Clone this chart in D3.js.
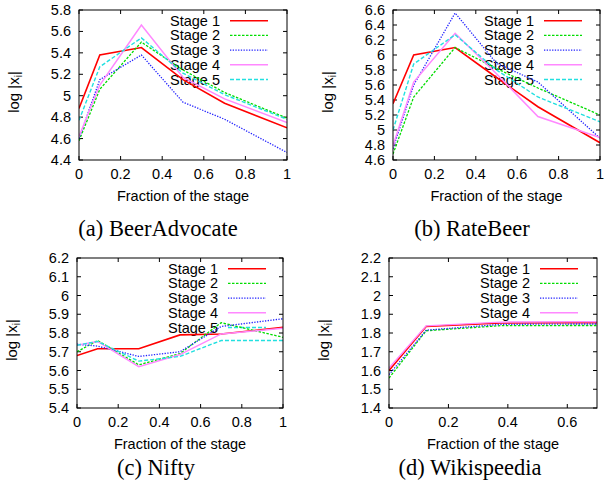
<!DOCTYPE html>
<html>
<head>
<meta charset="utf-8">
<script src="https://cdn.jsdelivr.net/npm/d3@7"></script>
<style>
  body { margin: 0; background: #fff; }
  svg { display: block; }
  text { font-family: "Liberation Sans", Arial, sans-serif; fill: #000; }
  .caption { font-family: "Liberation Serif", "Times New Roman", serif; font-size: 22.5px; }
</style>
</head>
<body>
<svg width="605" height="490"></svg>
<script>
// --- data ---
const stageNames = ["Stage 1", "Stage 2", "Stage 3", "Stage 4", "Stage 5"]

const xSix = [0, 0.1, 0.3, 0.5, 0.7, 1]
const xWiki = [0, 0.125, 0.375, 0.625, 0.875]

const beerAdvocate = [
  [4.88, 5.38, 5.45, 5.15, 4.93, 4.70],
  [4.58, 5.06, 5.50, 5.24, 5.03, 4.79],
  [4.60, 5.15, 5.38, 4.94, 4.78, 4.47],
  [4.62, 5.10, 5.66, 5.17, 4.97, 4.75],
  [4.77, 5.27, 5.54, 5.21, 5.01, 4.78]
]
const rateBeer = [
  [5.35, 6.00, 6.10, 5.70, 5.31, 4.83],
  [4.68, 5.44, 6.10, 5.82, 5.56, 5.20],
  [4.75, 5.60, 6.56, 5.89, 5.64, 4.89],
  [4.79, 5.64, 6.29, 5.75, 5.18, 4.90],
  [5.00, 5.88, 6.27, 5.80, 5.44, 5.11]
]
const nifty = [
  [5.68, 5.716, 5.716, 5.79, 5.795, 5.83],
  [5.70, 5.76, 5.63, 5.69, 5.855, 5.777],
  [5.74, 5.73, 5.675, 5.70, 5.835, 5.876],
  [5.735, 5.755, 5.62, 5.685, 5.795, 5.825],
  [5.735, 5.755, 5.65, 5.675, 5.76, 5.76]
]
const wikispeedia = [
  [1.60, 1.835, 1.853, 1.855, 1.855],
  [1.56, 1.812, 1.839, 1.840, 1.840],
  [1.578, 1.815, 1.846, 1.848, 1.848],
  [1.613, 1.838, 1.858, 1.860, 1.860]
]

const yTicksA = d3.range(4.4, 5.81, 0.2)
const yTicksB = d3.range(4.6, 6.61, 0.2)
const yTicksC = d3.range(5.4, 6.21, 0.1)
const yTicksD = d3.range(1.4, 2.21, 0.1)
const xTicksFull = [0, 0.2, 0.4, 0.6, 0.8, 1]
const xTicksWiki = [0, 0.2, 0.4, 0.6]

const captions = ["(a) BeerAdvocate", "(b) RateBeer", "(c) Nifty", "(d) Wikispeedia"]

// gnuplot-like line styles
const styles = [
  {color: "#ff0000", width: 1.6, dash: null},
  {color: "#00dd00", width: 1.3, dash: "2.5,1.5"},
  {color: "#2222ff", width: 1.3, dash: "1.3,1.4"},
  {color: "#ff88ff", width: 1.5, dash: null},
  {color: "#22e0e0", width: 1.4, dash: "4,2"}
]

const panels = [
  {x: xSix, series: beerAdvocate, yDom: [4.4, 5.8], yTicks: yTicksA, xDom: [0, 1], xTicks: xTicksFull,
   box: [79, 287, 10, 160], cap: [158, 228]},
  {x: xSix, series: rateBeer, yDom: [4.6, 6.6], yTicks: yTicksB, xDom: [0, 1], xTicks: xTicksFull,
   box: [393, 600, 10, 160], cap: [472, 228]},
  {x: xSix, series: nifty, yDom: [5.4, 6.2], yTicks: yTicksC, xDom: [0, 1], xTicks: xTicksFull,
   box: [77, 283, 258, 408], cap: [156, 467]},
  {x: xWiki, series: wikispeedia, yDom: [1.4, 2.2], yTicks: yTicksD, xDom: [0, 0.7], xTicks: xTicksWiki,
   box: [389, 597, 258, 408], cap: [470, 467]}
]

const svg = d3.select("svg")
const fmt = v => String(+v.toFixed(2))

panels.forEach((p, pi) => {
  const [l, r, t, b] = p.box
  const x = d3.scaleLinear().domain(p.xDom).range([l, r])
  const y = d3.scaleLinear().domain(p.yDom).range([b, t])
  const g = svg.append("g")

  const clipId = "clip" + pi
  g.append("clipPath").attr("id", clipId)
    .append("rect").attr("x", l).attr("y", t).attr("width", r - l).attr("height", b - t)

  // ticks (inward, mirrored)
  const tl = 4
  g.selectAll("line.yt").data(p.yTicks).join("line")
    .attr("x1", l).attr("x2", l + tl).attr("y1", d => y(d)).attr("y2", d => y(d))
    .attr("stroke", "#000")
  g.selectAll("line.yt2").data(p.yTicks).join("line")
    .attr("x1", r).attr("x2", r - tl).attr("y1", d => y(d)).attr("y2", d => y(d))
    .attr("stroke", "#000")
  g.selectAll("line.xt").data(p.xTicks).join("line")
    .attr("x1", d => x(d)).attr("x2", d => x(d)).attr("y1", b).attr("y2", b - tl)
    .attr("stroke", "#000")
  g.selectAll("line.xt2").data(p.xTicks).join("line")
    .attr("x1", d => x(d)).attr("x2", d => x(d)).attr("y1", t).attr("y2", t + tl)
    .attr("stroke", "#000")

  g.selectAll("text.yl").data(p.yTicks).join("text")
    .attr("x", l - 8).attr("y", d => y(d))
    .attr("text-anchor", "end").attr("dominant-baseline", "central")
    .attr("font-size", "14.5px")
    .text(fmt)
  g.selectAll("text.xl").data(p.xTicks).join("text")
    .attr("x", d => x(d)).attr("y", b + 14)
    .attr("text-anchor", "middle").attr("dominant-baseline", "central")
    .attr("font-size", "14.5px")
    .text(fmt)

  g.append("text")
    .attr("x", (l + r) / 2).attr("y", b + 36)
    .attr("text-anchor", "middle").attr("dominant-baseline", "central")
    .attr("font-size", "14.5px")
    .text("Fraction of the stage")

  const yl = g.append("text")
    .attr("transform", `translate(${l - 60},${(t + b) / 2 + 7}) rotate(-90)`)
    .attr("text-anchor", "middle")
    .attr("font-size", "15px")
  yl.append("tspan").text("log |x")
  yl.append("tspan").attr("font-size", "10px").attr("dy", 3).text("i")
  yl.append("tspan").attr("dy", -3).text("|")

  // legend
  const names = stageNames.slice(0, p.series.length)
  const rows = g.selectAll("g.leg").data(names).join("g")
    .attr("transform", (d, i) => `translate(0,${t + 10.7 + i * 14.7})`)
  rows.append("text")
    .attr("x", l + 141).attr("text-anchor", "end").attr("dominant-baseline", "central")
    .attr("font-size", "14.5px")
    .text(d => d)
  rows.append("line")
    .attr("x1", l + 151).attr("x2", l + 189)
    .attr("stroke", (d, i) => styles[i].color)
    .attr("stroke-width", (d, i) => styles[i].width)
    .attr("stroke-dasharray", (d, i) => styles[i].dash)

  // data lines
  const line = d3.line().x(d => x(d[0])).y(d => y(d[1]))
  g.append("g").attr("clip-path", `url(#${clipId})`)
    .selectAll("path").data(p.series).join("path")
    .attr("d", s => line(s.map((v, i) => [p.x[i], v])))
    .attr("fill", "none")
    .attr("stroke", (d, i) => styles[i].color)
    .attr("stroke-width", (d, i) => styles[i].width)
    .attr("stroke-dasharray", (d, i) => styles[i].dash)

  // frame
  g.append("rect")
    .attr("x", l).attr("y", t).attr("width", r - l).attr("height", b - t)
    .attr("fill", "none").attr("stroke", "#000").attr("stroke-width", 1)

  svg.append("text").attr("class", "caption")
    .attr("x", p.cap[0]).attr("y", p.cap[1])
    .attr("text-anchor", "middle").attr("dominant-baseline", "central")
    .text(captions[pi])
})
</script>
</body>
</html>
